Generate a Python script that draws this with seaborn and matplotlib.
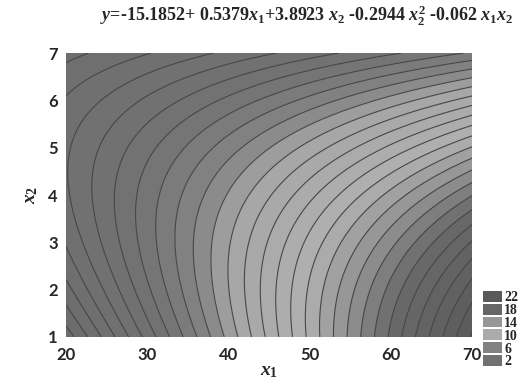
import numpy as np
import pandas as pd
import matplotlib
matplotlib.use("Agg")
import matplotlib.pyplot as plt
from matplotlib.colors import LinearSegmentedColormap
import seaborn as sns

# ---- data (from the fitted equation in the title) ----
coef = [-15.1852, 0.5379, 3.8923, -0.2944, -0.062]   # b0, b1(x1), b2(x2), b22(x2^2), b12(x1x2)
x1_range = [20, 70]
x2_range = [1, 7]
x1_ticks = [20, 30, 40, 50, 60, 70]
x2_ticks = [1, 2, 3, 4, 5, 6, 7]
legend_levels = [22, 18, 14, 10, 6, 2]

sns.set_theme(style="white")
plt.rcParams['font.family'] = ['Liberation Serif', 'DejaVu Sans']
plt.rcParams['mathtext.fontset'] = 'custom'
plt.rcParams['mathtext.it'] = 'Liberation Serif:italic:bold'
plt.rcParams['mathtext.rm'] = 'Liberation Serif:bold'
plt.rcParams['mathtext.bf'] = 'Liberation Serif:bold'

x1 = np.linspace(x1_range[0], x1_range[1], 301)
x2 = np.linspace(x2_range[0], x2_range[1], 301)
X1, X2 = np.meshgrid(x1, x2)
Y = coef[0] + coef[1]*X1 + coef[2]*X2 + coef[3]*X2**2 + coef[4]*X1*X2

# grayscale colormap (a rainbow rendered in gray)
vmin, vmax = -3.0, 23.0
nodes_v = [-3, 4, 6.5, 8, 12, 14.5, 17, 23]
nodes_g = [0.42, 0.45, 0.52, 0.65, 0.69, 0.57, 0.41, 0.34]
cmap = LinearSegmentedColormap.from_list(
    "grayrain",
    [((v - vmin) / (vmax - vmin), (g, g, g)) for v, g in zip(nodes_v, nodes_g)])

fig = plt.figure(figsize=(5.24, 3.85), dpi=100)
ax = fig.add_axes([0.126, 0.125, 0.775, 0.737])

levels = np.arange(-2.4, 22.5, 0.8)
ax.contourf(X1, X2, Y, levels=levels, cmap=cmap, vmin=vmin, vmax=vmax)
ax.contour(X1, X2, Y, levels=levels, colors=[(0.28, 0.28, 0.28)], linewidths=0.8,
           negative_linestyles='solid')

ax.set_xlim(x1_range)
ax.set_ylim(x2_range)
ax.set_xticks(x1_ticks)
ax.set_yticks(x2_ticks)
tick_font = dict(family=['Lato', 'DejaVu Sans'], weight='bold', size=12)
ax.set_xticklabels([str(t) for t in x1_ticks], **tick_font)
ax.set_yticklabels([str(t) for t in x2_ticks], **tick_font)
ax.tick_params(axis='x', length=0, pad=7)
ax.tick_params(axis='y', length=0, pad=6)
for s in ax.spines.values():
    s.set_visible(False)

ax.set_xlabel(r"$x_1$", fontsize=14, labelpad=0)
ax.set_ylabel(r"$x_2$", fontsize=14, labelpad=6)

fig.text(0.585, 0.96,
         r"$y$=-15.1852+ 0.5379$x_1$+3.8923 $x_2$ -0.2944 $x_2^2$ -0.062 $x_1 x_2$",
         ha='center', va='center', fontsize=13, fontweight='bold')

# legend swatches
lax = fig.add_axes([0.92, 0.047, 0.04, 0.2])
leg = pd.DataFrame({"v": legend_levels}, index=[str(v) for v in legend_levels])
sns.heatmap(leg, ax=lax, cmap=cmap, vmin=vmin, vmax=vmax, cbar=False,
            linewidths=1.2, linecolor='white', xticklabels=False, yticklabels=True)
lax.yaxis.tick_right()
lax.set_yticklabels(leg.index, rotation=0, family=['Liberation Serif', 'DejaVu Sans'],
                    weight='bold', size=10)
lax.tick_params(axis='y', length=0, pad=1)
lax.set_ylabel("")
lax.set_xlabel("")

fig.savefig("out.png", dpi=100, facecolor='white')
